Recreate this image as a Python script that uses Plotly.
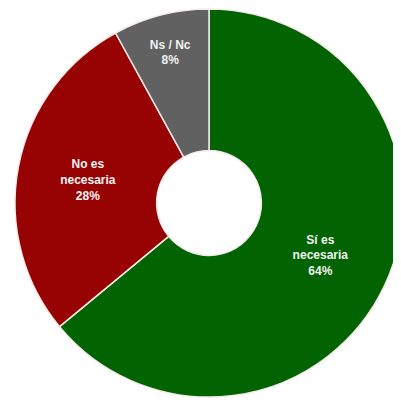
import plotly.graph_objects as go

categories = ["Sí es necesaria", "No es necesaria", "Ns / Nc"]
display_labels = ["Sí es<br>necesaria", "No es<br>necesaria", "Ns / Nc"]
values = [64, 28, 8]
colors = ["#016401", "#970303", "#616161"]

W, H = 401, 402
# page body adds an 8px offset, so aim the centre 8px up/left
cx, cy, r = 201, 195, 194

fig = go.Figure(go.Pie(
    labels=categories,
    values=values,
    text=display_labels,
    texttemplate="%{text}<br>%{percent:.0%}",
    textinfo="text+percent",
    textposition="inside",
    insidetextorientation="horizontal",
    sort=False,
    direction="clockwise",
    rotation=0,
    hole=0.27,
    marker=dict(colors=colors, line=dict(color="#f4eaea", width=1.5)),
    textfont=dict(family="Liberation Sans", size=12, color="#f2f2f2", weight="bold"),
    showlegend=False,
    domain=dict(x=[(cx - r) / W, (cx + r) / W], y=[1 - (cy + r) / H, 1 - (cy - r) / H]),
))

fig.update_layout(
    width=W, height=H,
    margin=dict(l=0, r=0, t=0, b=0),
    paper_bgcolor="white",
    plot_bgcolor="white",
)

fig.write_html("out.html")
